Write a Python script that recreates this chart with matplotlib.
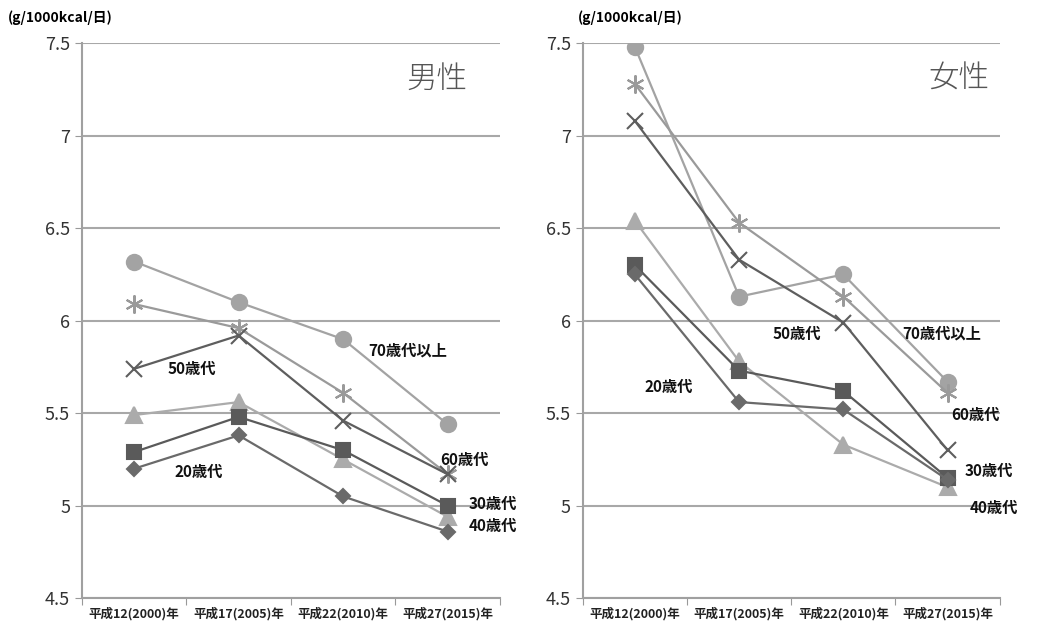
import numpy as np
import matplotlib
matplotlib.use("Agg")
import matplotlib.pyplot as plt

plt.rcParams['font.family'] = ['Noto Sans CJK JP', 'DejaVu Sans']

years = ["平成12(2000)年", "平成17(2005)年", "平成22(2010)年", "平成27(2015)年"]
groups = ["70歳代以上", "60歳代", "50歳代", "40歳代", "30歳代", "20歳代"]

# 男性
male_70 = [6.32, 6.10, 5.90, 5.44]
male_60 = [6.09, 5.96, 5.61, 5.17]
male_50 = [5.74, 5.92, 5.46, 5.17]
male_40 = [5.49, 5.56, 5.25, 4.94]
male_30 = [5.29, 5.48, 5.30, 5.00]
male_20 = [5.20, 5.38, 5.05, 4.86]

# 女性
female_70 = [7.48, 6.13, 6.25, 5.67]
female_60 = [7.28, 6.53, 6.13, 5.61]
female_50 = [7.08, 6.33, 5.99, 5.30]
female_40 = [6.54, 5.78, 5.33, 5.10]
female_30 = [6.30, 5.73, 5.62, 5.15]
female_20 = [6.25, 5.56, 5.52, 5.14]

styles = {
    "70歳代以上": dict(marker='o', color='#a3a3a3', ms=11),
    "60歳代": dict(marker=(6, 2, 0), color='#9a9a9a', ms=13),
    "50歳代": dict(marker='x', color='#5e5e5e', ms=11),
    "40歳代": dict(marker='^', color='#ababab', ms=11),
    "30歳代": dict(marker='s', color='#5a5a5a', ms=10),
    "20歳代": dict(marker='D', color='#6a6a6a', ms=7),
}

male_labels = {
    "70歳代以上": (2.24, 5.84),
    "50歳代": (0.32, 5.74),
    "20歳代": (0.39, 5.18),
    "60歳代": (2.93, 5.25),
    "30歳代": (3.2, 5.01),
    "40歳代": (3.2, 4.89),
}
female_labels = {
    "50歳代": (1.32, 5.93),
    "70歳代以上": (2.57, 5.93),
    "20歳代": (0.09, 5.64),
    "60歳代": (3.04, 5.49),
    "30歳代": (3.16, 5.19),
    "40歳代": (3.21, 4.99),
}

fig = plt.figure(figsize=(10.37, 6.27), dpi=100)
ax1 = fig.add_axes([0.079, 0.046, 0.403, 0.885])
ax2 = fig.add_axes([0.562, 0.046, 0.402, 0.885])

x = np.arange(len(years))


def draw(ax, series, title, tx, labels):
    for name, vals in zip(groups, series):
        st = styles[name]
        ax.plot(x, vals, color=st['color'], lw=1.6, marker=st['marker'],
                ms=st['ms'], mec=st['color'], mfc=st['color'], mew=1.5)
    for name, (lx, ly) in labels.items():
        ax.text(lx, ly, name, fontsize=11, fontweight='bold', ha='left', va='center',
                color='#111111')
    ax.text(tx, 7.31, title, fontsize=22, fontweight='light', ha='right', va='center',
            color='#555555')
    ax.set_xlim(-0.5, 3.5)
    ax.set_ylim(4.5, 7.5)
    ax.set_yticks([4.5, 5, 5.5, 6, 6.5, 7, 7.5])
    ax.set_yticklabels(["4.5", "5", "5.5", "6", "6.5", "7", "7.5"], fontsize=13, color='#333333')
    ax.yaxis.grid(True, color='#a8a8a8', lw=1.5)
    ax.set_axisbelow(True)
    ax.set_xticks([-0.5, 0.5, 1.5, 2.5, 3.5])
    ax.set_xticklabels([])
    ax.set_xticks(x, minor=True)
    ax.set_xticklabels(years, minor=True, fontsize=9, fontweight='bold', color='#222222')
    ax.tick_params(axis='x', which='minor', length=0, pad=6)
    ax.tick_params(axis='x', which='major', length=5, color='#999999', direction='out')
    ax.tick_params(axis='y', length=5, color='#999999')
    for s in ['top', 'right']:
        ax.spines[s].set_visible(False)
    for s in ['left', 'bottom']:
        ax.spines[s].set_color('#a0a0a0')
        ax.spines[s].set_linewidth(1.5)


draw(ax1, [male_70, male_60, male_50, male_40, male_30, male_20], "男性", 3.19, male_labels)
draw(ax2, [female_70, female_60, female_50, female_40, female_30, female_20], "女性", 3.4, female_labels)

fig.text(0.008, 0.971, "(g/1000kcal/日)", fontsize=10, fontweight='bold', va='center', ha='left')
fig.text(0.557, 0.971, "(g/1000kcal/日)", fontsize=10, fontweight='bold', va='center', ha='left')

fig.savefig("out.png", dpi=100)
